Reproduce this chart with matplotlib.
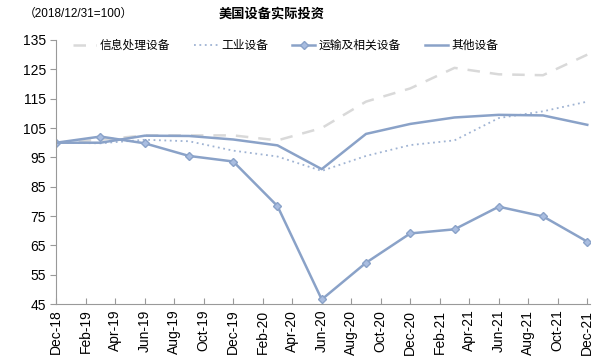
import matplotlib
matplotlib.use("Agg")
import matplotlib.pyplot as plt

plt.rcParams['font.family'] = ['Liberation Sans', 'Noto Sans CJK SC']

# quarterly points, month index from Dec-18
months = [0, 3, 6, 9, 12, 15, 18, 21, 24, 27, 30, 33, 36]
info_proc = [100, 101, 102.5, 102.5, 102.5, 100.8, 105, 114, 118.5, 125.5, 123.3, 123, 130]
industrial = [100, 99.8, 101, 100.5, 97.3, 95.3, 90.4, 95.5, 99.2, 100.8, 108.4, 110.7, 114]
transport = [100, 102.1, 99.8, 95.5, 93.6, 78.4, 46.6, 59.1, 69.1, 70.5, 78.2, 74.9, 66.3]
other = [100, 100, 102.4, 102.3, 101.1, 99.1, 91, 103, 106.4, 108.6, 109.5, 109.3, 106.1]

tick_labels = ["Dec-18", "Feb-19", "Apr-19", "Jun-19", "Aug-19", "Oct-19", "Dec-19",
               "Feb-20", "Apr-20", "Jun-20", "Aug-20", "Oct-20", "Dec-20",
               "Feb-21", "Apr-21", "Jun-21", "Aug-21", "Oct-21", "Dec-21"]
tick_pos = list(range(0, 37, 2))

fig = plt.figure(figsize=(5.98, 3.57), dpi=100)
ax = fig.add_axes([0.094, 0.148, 0.893, 0.74])

ax.plot(months, info_proc, color="#d9d9d9", lw=1.8, ls=(0, (5, 4)), label="信息处理设备")
ax.plot(months, industrial, color="#9fb3d3", lw=1.3, ls=(0, (1, 2)), label="工业设备")
ax.plot(months, transport, color="#8aa2c8", lw=1.8, marker="D", ms=4.5,
        mfc="#a9bde0", mec="#8aa2c8", label="运输及相关设备")
ax.plot(months, other, color="#8aa2c8", lw=1.8, label="其他设备")

ax.set_xlim(0, 36.2)
ax.set_ylim(45, 135)
ax.set_yticks(range(45, 136, 10))
ax.set_xticks(tick_pos)
ax.set_xticklabels(tick_labels, rotation=90)
ax.tick_params(axis="y", labelsize=10, length=4, color="#999999", direction="out")
ax.tick_params(axis="x", labelsize=10, length=4, color="#999999", direction="in", pad=4)

for s in ["top", "right"]:
    ax.spines[s].set_visible(False)
for s in ["left", "bottom"]:
    ax.spines[s].set_color("#999999")

ax.legend(loc="upper center", bbox_to_anchor=(0.43, 1.04), ncol=4, frameon=False,
          fontsize=8.5, handlelength=2.0, columnspacing=2.0, handletextpad=0.3)

fig.text(0.04, 0.96, "（2018/12/31=100）", fontsize=8.5, va="center", ha="left")
fig.text(0.455, 0.96, "美国设备实际投资", fontsize=9.5, fontweight="bold", va="center", ha="center")

fig.savefig("out.png", dpi=100)
